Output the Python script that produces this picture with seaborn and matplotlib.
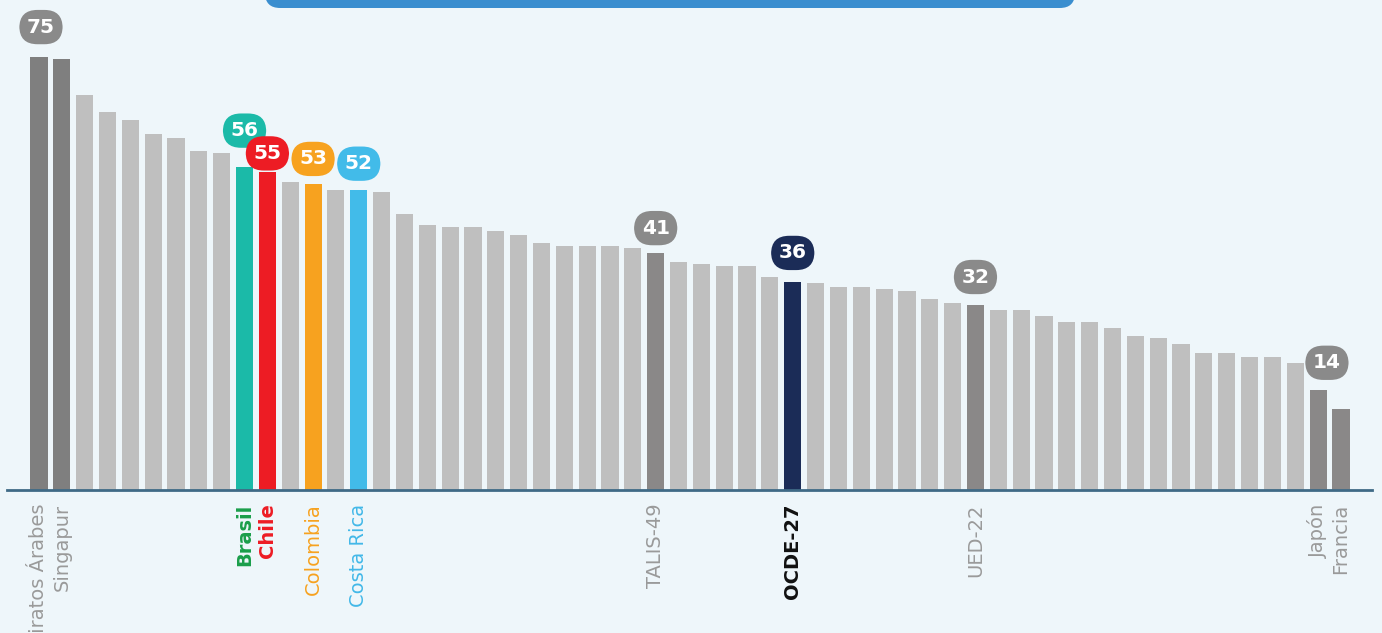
import matplotlib.pyplot as plt
import seaborn as sns
from matplotlib.patches import FancyBboxPatch

# -----------------------------
# Données
# -----------------------------
values = [75, 74.6, 68.4, 65.5, 64.1, 61.6, 60.9, 58.7, 58.4, 56,
          55, 53.4, 53, 52.0, 52, 51.6, 47.7, 45.9, 45.5, 45.5,
          44.8, 44.1, 42.7, 42.3, 42.3, 42.3, 41.9, 41, 39.4, 39.1,
          38.8, 38.8, 36.9, 36, 35.9, 35.2, 35.2, 34.8, 34.5, 33.0,
          32.3, 32, 31.2, 31.2, 30.1, 29.1, 29.1, 28.0, 26.6, 26.3,
          25.2, 23.7, 23.7, 23.0, 23.0, 22.0, 17.3, 14]

tick_labels = {0: "Emiratos Árabes", 1: "Singapur", 9: "Brasil", 10: "Chile",
               12: "Colombia", 14: "Costa Rica", 27: "TALIS-49", 33: "OCDE-27",
               41: "UED-22", 56: "Japón", 57: "Francia"}

# barres mises en évidence : index -> couleur de barre
bar_colors = {0: "#7f7f7f", 1: "#7f7f7f", 9: "#1bbaa8", 10: "#ed1c24",
              12: "#f7a21f", 14: "#42bbe9", 27: "#8a8888", 33: "#1b2c57",
              41: "#8a8888", 56: "#8a8888", 57: "#8a8888"}

label_colors = {9: "#1a9e4a", 10: "#ed1c24", 12: "#f7a21f", 14: "#42b8e8",
                33: "#111111"}
bold_labels = [9, 10, 33]

# bulles : index -> couleur
bubbles = {0: "#8a8a8a", 9: "#1bbaa8", 10: "#ed1c24", 12: "#f7a21f",
           14: "#42bbe9", 27: "#8a8a8a", 33: "#1b2c57", 41: "#8a8a8a",
           57: "#8a8a8a"}

# -----------------------------
# Style
# -----------------------------
bg = "#eef6fa"
sns.set_style("white", {"axes.facecolor": bg, "figure.facecolor": bg})
plt.rcParams["font.family"] = ["DejaVu Sans"]

n = len(values)
idx = list(range(n))
palette = [bar_colors.get(i, "#bfbfbf") for i in idx]

fig = plt.figure(figsize=(13.82, 6.33), dpi=100)
ax = fig.add_axes([7 / 1382, 1 - 489.5 / 633, 1365 / 1382, 489.5 / 633])

sns.barplot(x=idx, y=values, hue=idx, palette=palette, legend=False,
            width=0.75, saturation=1, linewidth=0, ax=ax)

ax.set_xlim(-1.4, 58.36)
ax.set_ylim(0, 84.9)
for s in ["top", "right", "left"]:
    ax.spines[s].set_visible(False)
ax.spines["bottom"].set_color("#3f6a86")
ax.spines["bottom"].set_linewidth(2)
ax.set_yticks([])
ax.set_ylabel("")
ax.set_xlabel("")

ax.set_xticks(idx)
ax.set_xticklabels([tick_labels.get(i, "") for i in idx], rotation=90,
                   fontsize=14, va="top", ha="center")
ax.tick_params(axis="x", length=0, pad=10)
for i, t in zip(idx, ax.get_xticklabels()):
    t.set_color(label_colors.get(i, "#9a9a9a"))
    if i in bold_labels:
        t.set_fontweight("bold")

# -----------------------------
# Bulles de valeurs
# -----------------------------
offsets = {0: (2, 30), 9: (0, 36), 10: (0, 19), 12: (0, 25), 14: (0, 26),
           27: (0, 25), 33: (0, 29), 41: (0, 28), 57: (-14, 46)}
for i, col in bubbles.items():
    dx, dy = offsets[i]
    ax.annotate(f"{values[i]:.0f}", xy=(i, values[i]), xytext=(dx, dy),
                textcoords="offset pixels", ha="center", va="center",
                color="white", fontsize=14.5, fontweight="bold",
                annotation_clip=False,
                bbox=dict(boxstyle="round,pad=0.38,rounding_size=0.9",
                          fc=col, ec="none"))

# bandeau bleu du titre (coupé en haut)
fig.patches.append(FancyBboxPatch((265 / 1382, 625 / 633), 810 / 1382, 0.1,
                                  boxstyle="round,pad=0,rounding_size=0.011",
                                  mutation_aspect=1382 / 633,
                                  fc="#3a8ecf", ec="none",
                                  transform=fig.transFigure, figure=fig))

plt.savefig("out.png", dpi=100, facecolor=bg)
plt.close()
